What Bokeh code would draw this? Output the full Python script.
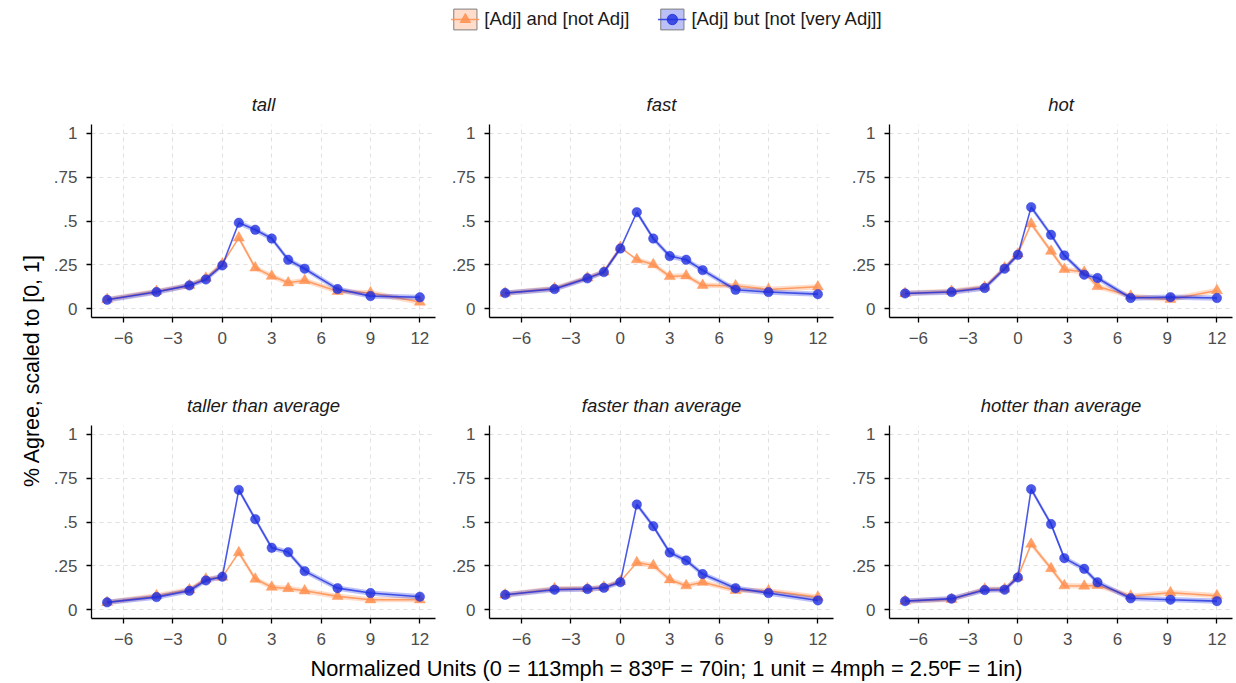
import numpy as np
from math import pi
from bokeh.plotting import figure
from bokeh.layouts import row, column
from bokeh.models import (Range1d, FixedTicker, Legend, LegendItem, Label,
                          ColumnDataSource, CustomJSTickFormatter)
from bokeh.embed import file_html
from bokeh.resources import INLINE

FONT = "Liberation Sans"

# ---------------- data ----------------
panel_titles = ["tall", "fast", "hot",
                "taller than average", "faster than average", "hotter than average"]
series_names = ["[Adj] and [not Adj]", "[Adj] but [not [very Adj]]"]

x_tall = [-7, -4, -2, -1, 0, 1, 2, 3, 4, 5, 7, 9, 12]
x_fast = [-7, -4, -2, -1, 0, 1, 2, 3, 4, 5, 7, 9, 12]
x_hot = [-6.8, -4, -2, -0.8, 0, 0.8, 2, 2.8, 4, 4.8, 6.8, 9.2, 12]

and_tall = [0.053, 0.099, 0.133, 0.175, 0.256, 0.404, 0.233, 0.186, 0.148, 0.161, 0.099, 0.091, 0.038]
but_tall = [0.051, 0.095, 0.133, 0.167, 0.247, 0.490, 0.450, 0.400, 0.279, 0.228, 0.112, 0.072, 0.065]

and_fast = [0.089, 0.116, 0.176, 0.210, 0.350, 0.280, 0.252, 0.184, 0.188, 0.133, 0.131, 0.110, 0.125]
but_fast = [0.089, 0.112, 0.173, 0.209, 0.343, 0.550, 0.400, 0.300, 0.279, 0.220, 0.108, 0.095, 0.083]

and_hot = [0.087, 0.100, 0.123, 0.233, 0.313, 0.484, 0.328, 0.224, 0.209, 0.127, 0.072, 0.053, 0.104]
but_hot = [0.087, 0.095, 0.118, 0.228, 0.307, 0.579, 0.421, 0.304, 0.194, 0.175, 0.061, 0.066, 0.061]

and_taller = [0.042, 0.080, 0.114, 0.175, 0.186, 0.326, 0.175, 0.129, 0.121, 0.108, 0.076, 0.057, 0.057]
but_taller = [0.042, 0.072, 0.108, 0.167, 0.188, 0.683, 0.516, 0.353, 0.328, 0.220, 0.123, 0.095, 0.074]

and_faster = [0.085, 0.120, 0.120, 0.129, 0.161, 0.269, 0.252, 0.171, 0.137, 0.157, 0.110, 0.108, 0.072]
but_faster = [0.085, 0.114, 0.118, 0.125, 0.157, 0.600, 0.476, 0.326, 0.281, 0.203, 0.123, 0.095, 0.053]

and_hotter = [0.049, 0.059, 0.118, 0.118, 0.186, 0.374, 0.235, 0.137, 0.135, 0.139, 0.078, 0.097, 0.080]
but_hotter = [0.049, 0.063, 0.112, 0.114, 0.184, 0.687, 0.488, 0.294, 0.233, 0.156, 0.065, 0.057, 0.049]

ci_half_width = 0.015  # approximate half-width of the confidence ribbons

x_ticks = [-6, -3, 0, 3, 6, 9, 12]
x_tick_labels = ["\u22126", "\u22123", "0", "3", "6", "9", "12"]
y_ticks = [0, 0.25, 0.5, 0.75, 1]
y_tick_labels = ["0", ".25", ".5", ".75", "1"]

x_title = "Normalized Units (0 = 113mph = 83\u00baF = 70in; 1 unit = 4mph = 2.5\u00baF = 1in)"
y_title = "% Agree, scaled to [0, 1]"

# ---------------- style ----------------
ORANGE = "#FF9050"
BLUE = "#1F2FE0"
ORANGE_ALPHA = 0.85
BLUE_ALPHA = 0.8
RIBBON_ALPHA = 0.3
GRID = "#E0E0E0"

panels = [
    (panel_titles[0], x_tall, and_tall, but_tall),
    (panel_titles[1], x_fast, and_fast, but_fast),
    (panel_titles[2], x_hot, and_hot, but_hot),
    (panel_titles[3], x_tall, and_taller, but_taller),
    (panel_titles[4], x_fast, and_faster, but_faster),
    (panel_titles[5], x_hot, and_hotter, but_hotter),
]

def tick_formatter(tvals, tlabels):
    return CustomJSTickFormatter(
        args=dict(tv=tvals, tl=tlabels),
        code="const i = tv.findIndex(t => Math.abs(t - tick) < 1e-9); return i >= 0 ? tl[i] : '';")


def make_panel(title, xs, y_and, y_but, width, height, bl, br, bt, bb, x_range):
    p = figure(width=width, height=height, x_range=Range1d(*x_range),
               y_range=Range1d(-0.05, 1.05), output_backend="svg",
               toolbar_location=None, title=title,
               min_border_left=bl, min_border_right=br,
               min_border_top=bt, min_border_bottom=bb)
    p.title.text_font = FONT
    p.title.text_font_style = "italic"
    p.title.text_font_size = "18.5px"
    p.title.text_color = "#1a1a1a"
    p.title.align = "center"
    p.title.standoff = 19
    p.outline_line_color = None
    p.background_fill_color = "white"
    p.border_fill_color = "white"

    xt = FixedTicker(ticks=x_ticks, minor_ticks=[])
    yt = FixedTicker(ticks=y_ticks, minor_ticks=[])
    p.xaxis.ticker = xt
    p.yaxis.ticker = yt
    p.xgrid.ticker = xt
    p.ygrid.ticker = yt
    p.xaxis.formatter = tick_formatter(x_ticks, x_tick_labels)
    p.yaxis.formatter = tick_formatter(y_ticks, y_tick_labels)
    for g in (p.xgrid, p.ygrid):
        g.grid_line_color = GRID
        g.grid_line_dash = "4 4"
        g.grid_line_width = 1
    for ax in (p.xaxis, p.yaxis):
        ax.axis_line_color = "black"
        ax.axis_line_width = 1.3
        ax.major_tick_line_color = "black"
        ax.major_tick_line_width = 1.3
        ax.major_tick_out = 5
        ax.major_tick_in = 0
        ax.minor_tick_line_color = None
        ax.major_label_text_font = FONT
        ax.major_label_text_font_size = "17px"
        ax.major_label_text_color = "#4D4D4D"
    p.xaxis.major_label_standoff = 9
    p.yaxis.major_label_standoff = 9

    xa = np.array(xs, dtype=float)
    for ys, color, alpha, marker, size in (
            (y_and, ORANGE, ORANGE_ALPHA, "triangle", 11),
            (y_but, BLUE, BLUE_ALPHA, "circle", 9.5)):
        ya = np.array(ys, dtype=float)
        for mask in (xa <= 0, xa > 0):
            p.varea(x=xa[mask], y1=ya[mask] - ci_half_width, y2=ya[mask] + ci_half_width,
                    fill_color=color, fill_alpha=RIBBON_ALPHA)
        p.line(xa, ya, line_color=color, line_alpha=alpha, line_width=1.6)
        p.scatter(xa, ya, marker=marker, size=size, fill_color=color,
                  line_color=color, fill_alpha=alpha, line_alpha=alpha, line_width=0.5)
    return p


# layout geometry (pixels)
TOP_H, BOT_H = 319, 285
figs = []
for i, (title, xs, ya, yb) in enumerate(panels):
    col = i % 3
    top = i < 3
    h = TOP_H if top else BOT_H
    bt = 76 if top else 58
    bb = 50 if top else 34
    if col == 0:
        w, bl, br, xr = 398, 40, 13, (-7.95, 12.95)
    elif col == 1:
        w, bl, br, xr = 400, 40, 15, (-7.95, 12.95)
    else:
        w, bl, br, xr = 388, 40, 4, (-7.74, 12.94)
    figs.append(make_panel(title, xs, ya, yb, w, h, bl, br, bt, bb, xr))

LEFT_PAD = 96   # shared left border of legend / x-title strips (frame centre = 666)
TOTAL_W = 1236

# legend figure
lf = figure(width=TOTAL_W, height=48, output_backend="svg", toolbar_location=None,
            title=None, x_axis_location=None, y_axis_location=None,
            min_border_left=LEFT_PAD, min_border_right=0, min_border_top=6, min_border_bottom=0)
lf.outline_line_color = None
lf.xgrid.visible = False
lf.ygrid.visible = False
nan = float("nan")
dummy = ColumnDataSource(dict(x=[nan], y=[nan], l=[nan], r=[nan], t=[nan], b=[nan]))
items = []
for name, color, alpha, marker, size in (
        (series_names[0], ORANGE, ORANGE_ALPHA, "triangle", 8),
        (series_names[1], BLUE, BLUE_ALPHA, "circle", 7)):
    q = lf.quad(left="l", right="r", top="t", bottom="b", source=dummy,
                fill_color=color, fill_alpha=RIBBON_ALPHA, line_color="#7F7F7F", line_width=1)
    ln = lf.line(x="x", y="y", source=dummy, line_color=color, line_alpha=alpha, line_width=1.4)
    sc = lf.scatter(x="x", y="y", source=dummy, marker=marker, size=size,
                    fill_color=color, line_color=color, fill_alpha=alpha, line_alpha=alpha)
    items.append(LegendItem(label=name, renderers=[q, ln, sc]))
leg = Legend(items=items, orientation="horizontal", location="top_center",
             margin=0, padding=0, spacing=28, glyph_width=29, glyph_height=26,
             label_standoff=5, label_text_font=FONT, label_text_font_size="18.5px",
             label_text_color="#1a1a1a", border_line_color=None, background_fill_alpha=0)
lf.add_layout(leg, "center")

# y title figure
ytf = figure(width=50, height=TOP_H + BOT_H, output_backend="svg", toolbar_location=None,
             title=None, x_axis_location=None, y_axis_location=None,
             min_border_left=0, min_border_right=0, min_border_top=0, min_border_bottom=0)
ytf.outline_line_color = None
ytf.xgrid.visible = False
ytf.ygrid.visible = False
ytf.add_layout(Label(x=31, y=282, x_units="screen", y_units="screen", text=y_title,
                     angle=pi / 2, text_align="center", text_baseline="middle",
                     text_font=FONT, text_font_size="21.4px", text_color="black"))

# x title figure
xtf = figure(width=TOTAL_W, height=31, output_backend="svg", toolbar_location=None,
             title=None, x_axis_location=None, y_axis_location=None,
             min_border_left=LEFT_PAD, min_border_right=0, min_border_top=0, min_border_bottom=0)
xtf.outline_line_color = None
xtf.xgrid.visible = False
xtf.ygrid.visible = False
xtf.add_layout(Label(x=(TOTAL_W - LEFT_PAD) / 2, y=15, x_units="screen", y_units="screen",
                     text=x_title, text_align="center", text_baseline="middle",
                     text_font=FONT, text_font_size="21.8px", text_color="black"))

grid = column(row(*figs[:3]), row(*figs[3:]))
layout = column(lf, row(ytf, grid), xtf)

open("out.html", "w").write(file_html(layout, INLINE))
